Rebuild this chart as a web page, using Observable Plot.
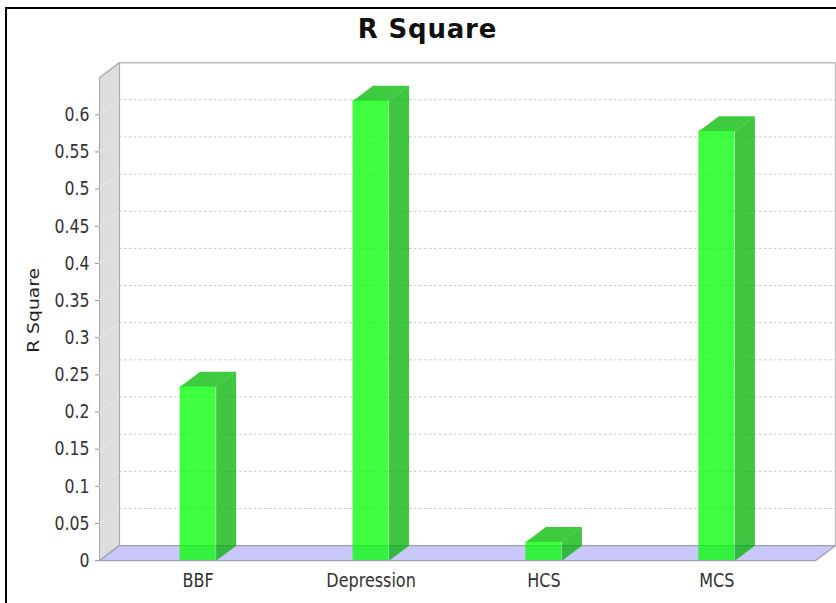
<!DOCTYPE html>
<html>
<head>
<meta charset="utf-8">
<script src="https://cdn.jsdelivr.net/npm/d3@7"></script>
<script src="https://cdn.jsdelivr.net/npm/@observablehq/plot@0.6"></script>
<style>
  html, body { margin: 0; padding: 0; background: #fff; }
  #wrap { position: relative; width: 836px; height: 603px; overflow: hidden; background: #fff; }
  #frame { position: absolute; z-index: 5; pointer-events: none; left: 5px; top: 7px; width: 900px; height: 700px; border-left: 2px solid #000; border-top: 2px solid #000; background: transparent; }
  #title { position: absolute; left: 0; top: 16px; width: 855px; text-align: center; font-family: "DejaVu Sans", sans-serif; font-weight: bold; font-size: 26px; letter-spacing: 0.8px; line-height: 26px; color: #111; }
  #chart { position: absolute; left: 0; top: 48px; }
</style>
</head>
<body>
<div id="wrap"><div id="title"></div><div id="chart"></div><div id="frame"></div></div>
<script>
// ---- data ----
const title = "R Square";
const yLabel = "R Square";
const categories = ["BBF", "Depression", "HCS", "MCS"];
const values = [0.234, 0.619, 0.025, 0.578];
const yTicks = [0, 0.05, 0.1, 0.15, 0.2, 0.25, 0.3, 0.35, 0.4, 0.45, 0.5, 0.55, 0.6];
const yMax = 0.65;

// ---- layout ----
const k = 1.25;                 // vertical stretch of the original picture
const W = 836, Hf = 555, H0 = Hf / k;
const mL = 99, mR = 21, mT = 29 / k, mB = 43 / k;
const xPad = 0.0705;
const xDomain = [-0.5 - xPad, categories.length - 0.5 + xPad];
const yDomain = [0, yMax];
const pxX = (W - mL - mR) / (xDomain[1] - xDomain[0]);
const pxY = (H0 - mT - mB) / (yDomain[1] - yDomain[0]);
const dX = 20 / pxX;            // 3D depth, x
const dY = (15 / k) / pxY;      // 3D depth, y
const half = 18 / pxX;          // half bar width

document.getElementById("title").textContent = title;

const xa = xDomain[0], xb = xDomain[1], yt = yDomain[1];
const poly = (id, pts) => pts.concat([pts[0]]).map(([x, y]) => ({id, x, y}));

const backWall = poly("back", [[xa + dX, dY], [xb + dX, dY], [xb + dX, yt + dY], [xa + dX, yt + dY]]);
const leftWall = poly("left", [[xa, 0], [xa, yt], [xa + dX, yt + dY], [xa + dX, dY]]);
const floor = poly("floor", [[xa, 0], [xb, 0], [xb + dX, dY], [xa + dX, dY]]);

const bars = categories.map((c, i) => ({c, i, v: values[i], a: i - half, b: i + half}));
const sides = bars.flatMap(d => poly("s" + d.i, [[d.b, 0], [d.b + dX, dY], [d.b + dX, d.v + dY], [d.b, d.v]]));
const tops = bars.flatMap(d => poly("t" + d.i, [[d.a, d.v], [d.b, d.v], [d.b + dX, d.v + dY], [d.a + dX, d.v + dY]]));

const svg = Plot.plot({
  width: W,
  height: H0,
  marginLeft: mL, marginRight: mR, marginTop: mT, marginBottom: mB,
  x: {type: "linear", domain: xDomain},
  y: {type: "linear", domain: yDomain},
  style: {fontFamily: '"DejaVu Sans", sans-serif', background: "white", overflow: "visible"},
  marks: [
    Plot.line(backWall, {x: "x", y: "y", z: "id", fill: "white", stroke: "#bdbdbd", strokeWidth: 1.2, curve: "linear"}),
    Plot.ruleY(yTicks.filter(d => d > 0), {dx: 20, dy: -15 / k, stroke: "#c0c0c0", strokeWidth: 1 / k, strokeDasharray: "2.5,2.5"}),
    Plot.line(leftWall, {x: "x", y: "y", z: "id", fill: "#dddddd", stroke: "#a8a8a8", strokeWidth: 1}),
    Plot.link(yTicks.filter(d => d > 0), {x1: xa, y1: d => d, x2: xa + dX, y2: d => d + dY, stroke: "#eeeeee", strokeWidth: 1, strokeDasharray: "2,2"}),
    Plot.line(floor, {x: "x", y: "y", z: "id", fill: "#c8c8fa", stroke: "#a0a0b0", strokeWidth: 1}),
    Plot.line(sides, {x: "x", y: "y", z: "id", fill: "#00b200", fillOpacity: 0.75, stroke: "none"}),
    Plot.line(tops, {x: "x", y: "y", z: "id", fill: "#00b800", fillOpacity: 0.75, stroke: "none"}),
    Plot.rect(bars, {x1: "a", x2: "b", y1: () => 0, y2: "v", fill: "#00ff00", fillOpacity: 0.75}),
    Plot.axisY(yTicks, {tickSize: 4, tickPadding: 6, tickFormat: d => String(d), fontSize: 15.7, stroke: "#888", strokeWidth: 1 / k, fill: "#333", label: null}),
    Plot.axisX(categories.map((_, i) => i), {tickSize: 0, tickPadding: 10, tickFormat: i => categories[i], fontSize: 16, fill: "#333", label: null}),
    Plot.text([yLabel], {frameAnchor: "left", textAnchor: "middle", dx: -65, dy: -7, rotate: -90, fontSize: 15, fill: "#222"})
  ]
});

svg.setAttribute("viewBox", `0 0 ${W} ${H0}`);
svg.setAttribute("preserveAspectRatio", "none");
svg.setAttribute("width", W);
svg.setAttribute("height", Hf);
svg.style.width = W + "px";
svg.style.height = Hf + "px";
svg.style.maxWidth = "none";
document.getElementById("chart").appendChild(svg);
</script>
</body>
</html>
